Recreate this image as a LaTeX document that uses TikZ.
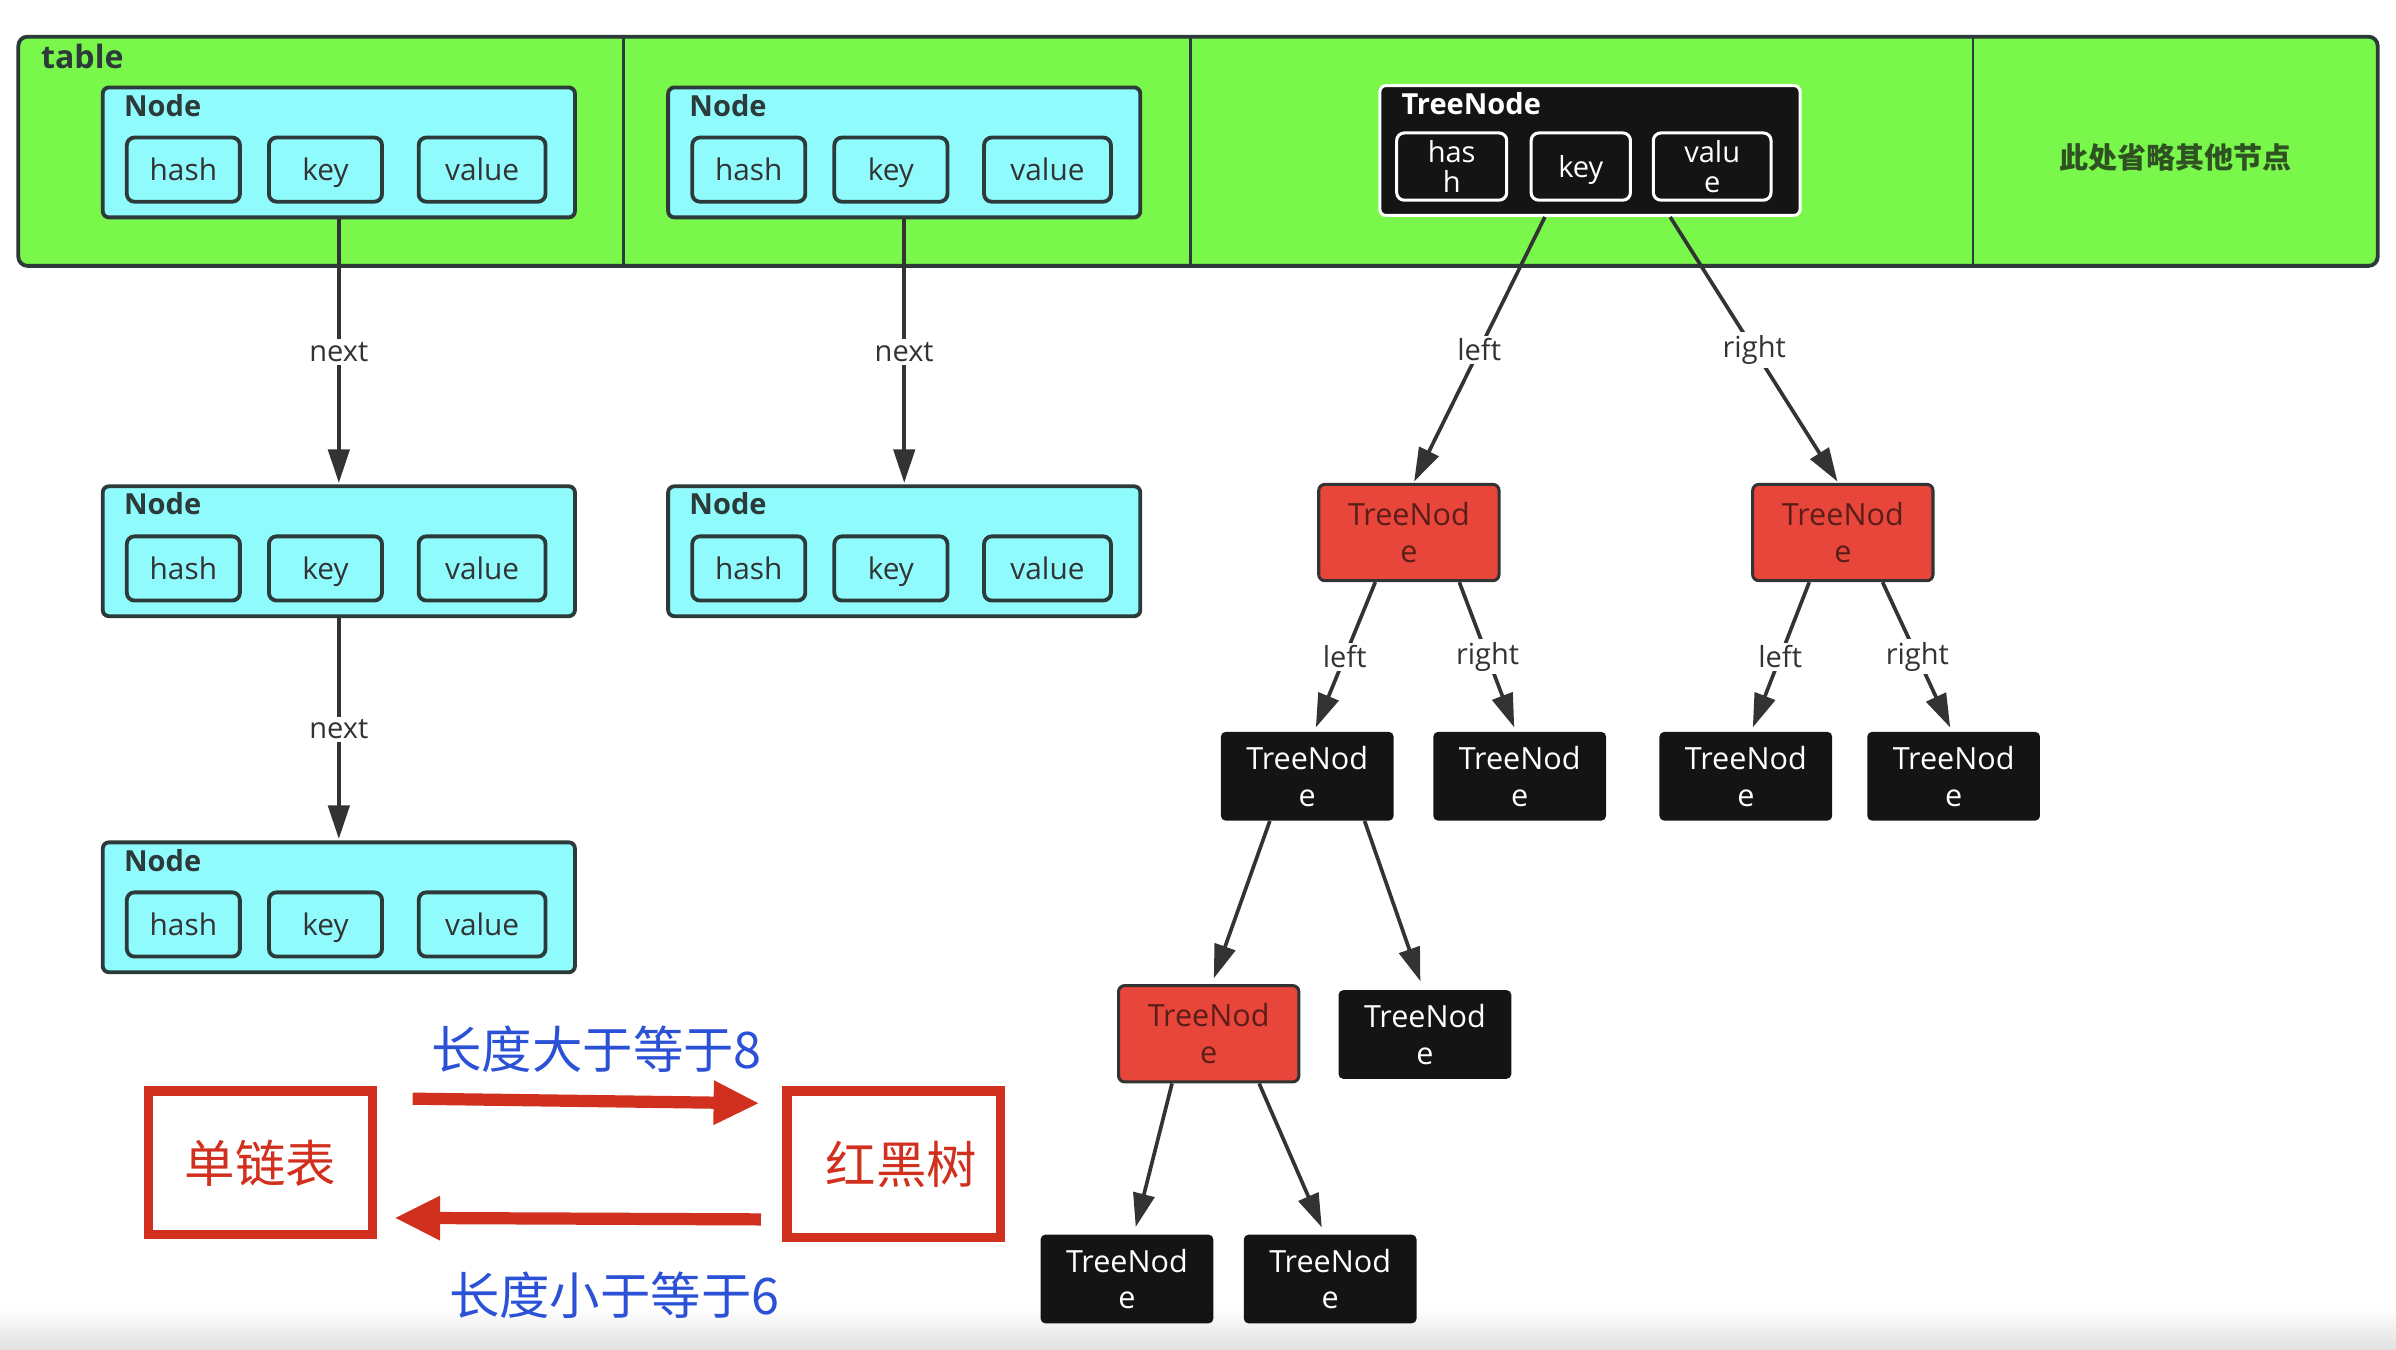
\documentclass[tikz,border=0pt]{standalone}
\usepackage{fontspec}
\setmainfont{Open Sans}
\newfontfamily\cjk{Noto Sans CJK SC}
\usetikzlibrary{arrows.meta,positioning}
\definecolor{tblgreen}{HTML}{79F74B}
\definecolor{nodecyan}{HTML}{8FFBFD}
\definecolor{treered}{HTML}{E8453B}
\definecolor{treeblack}{HTML}{141414}
\definecolor{linegray}{HTML}{333333}
\definecolor{nodeline}{HTML}{2C3A3A}
\definecolor{redtext}{HTML}{5A1E18}
\definecolor{boxred}{HTML}{D2301F}
\definecolor{txtblue}{HTML}{2B52D6}
\definecolor{omitgreen}{HTML}{2F5223}
\tikzset{tb/.style={draw=nodeline,line width=2.5pt,fill=tblgreen,rounded corners=6pt,minimum width=1544pt,minimum height=150pt,inner sep=0pt},
 nd/.style={draw=nodeline,line width=2.5pt,fill=nodecyan,rounded corners=4pt,minimum width=309pt,minimum height=85pt,inner sep=0pt},
 fd/.style={draw=nodeline,line width=2.5pt,fill=nodecyan,rounded corners=5pt,minimum height=42pt,inner sep=0pt,text height=16pt,text depth=2pt,font=\fontsize{19.5}{22}\selectfont,text=linegray},
 tnd/.style={draw=white,line width=2pt,fill=treeblack,rounded corners=4pt,minimum width=275pt,minimum height=85pt,inner sep=0pt},
 tfd/.style={draw=white,line width=2pt,fill=treeblack,rounded corners=5pt,minimum height=44pt,inner sep=0pt,align=center,font=\fontsize{19}{20}\selectfont,text=white},
 nt/.style={anchor=base west,inner sep=0pt,text=nodeline,font=\bfseries\fontsize{19}{22}\selectfont},
 rn/.style={draw=linegray,line width=2pt,fill=treered,rounded corners=4pt,minimum width=118pt,minimum height=63pt,inner sep=0pt,align=center,font=\fontsize{20}{24}\selectfont,text=redtext},
 bn/.style={fill=treeblack,rounded corners=3pt,minimum width=113pt,minimum height=58pt,inner sep=0pt,align=center,font=\fontsize{20}{24}\selectfont,text=white},
 ar/.style={draw=linegray,line width=2.4pt,-{Triangle[length=22pt,width=14pt]},shorten >=1pt},
 lb/.style={midway,fill=white,inner sep=2pt,font=\fontsize{19}{22}\selectfont,text=linegray},
 bx/.style={draw=boxred,line width=6pt,fill=white,inner sep=0pt,font=\cjk\fontsize{33}{40}\selectfont,text=boxred},
 big/.style={draw=boxred,line width=8pt,-{Triangle[length=30pt,width=27pt]}},
 bl/.style={midway,inner sep=0pt,font=\cjk\fontsize{33}{40}\selectfont,text=txtblue}}
\begin{document}
\begin{tikzpicture}[x=1pt,y=-1pt]
\fill[white](0,0)rectangle(1568,883);\useasboundingbox(0,0)rectangle(1568,883);
\shade[top color=white,bottom color=black!12](0,856)rectangle(1568,883);
% table with its buckets
\node[tb](tbl) at (784,99){};
\foreach \x in {408,779,1291}\draw[nodeline,line width=1.5pt](\x,0 |- tbl.north)--(\x,0 |- tbl.south);
\node[nt,font=\bfseries\fontsize{21}{24}\selectfont](tbl-t) at ([xshift=16pt,yshift=-22pt]tbl.north west){table};
\node[font=\cjk\bfseries\fontsize{19}{22}\selectfont,text=omitgreen](om) at (1423.5,103){此处省略其他节点};
% linked list nodes
\foreach \n/\x/\y in {n1/66/56,n2/436/56,n3/66/317,n4/436/317,n5/66/550}{
 \node[nd,anchor=north west](\n) at (\x,\y){};
 \node[nt](\n-t) at ([xshift=15pt,yshift=-20pt]\n.north west){Node};
 \node[fd,minimum width=74pt](\n-h) at ([xshift=54pt,yshift=-55pt]\n.north west){hash};
 \node[fd,minimum width=74pt](\n-k) at ([xshift=147pt,yshift=-55pt]\n.north west){key};
 \node[fd,minimum width=83pt](\n-v) at ([xshift=249.5pt,yshift=-55pt]\n.north west){value};}
\draw[ar](n1)--node[lb]{next}(n3);\draw[ar](n2)--node[lb]{next}(n4);\draw[ar](n3)--node[lb]{next}(n5);
% tree root in the table
\node[tnd](tn) at (1040.5,98.5){};
\node[nt,text=white](tn-t) at ([xshift=15pt,yshift=-20pt]tn.north west){TreeNode};
\node[tfd,minimum width=72pt](tn-h) at ([xshift=48pt,yshift=-54pt]tn.north west){has\\h};
\node[tfd,minimum width=65pt,text height=16pt,text depth=2pt](tn-k) at ([xshift=132.5pt,yshift=-54pt]tn.north west){key};
\node[tfd,minimum width=77pt](tn-v) at ([xshift=218.5pt,yshift=-54pt]tn.north west){valu\\e};
% red-black tree
\node[rn](ra) at (922,348.5){TreeNod\\e};\node[rn](rb) at (1206,348.5){TreeNod\\e};
\node[bn](bc) at (855.5,508){TreeNod\\e};\node[bn](bd) at (994.5,508){TreeNod\\e};
\node[bn](be) at (1142.5,508){TreeNod\\e};\node[bn](bf) at (1278.5,508){TreeNod\\e};
\node[rn](rg) at (791,676.5){TreeNod\\e};\node[bn](bh) at (932.5,677){TreeNod\\e};
\node[bn](bi) at (737.5,837){TreeNod\\e};\node[bn](bj) at (870.5,837){TreeNod\\e};
\draw[ar]([xshift=-29.5pt]tn.south)--node[lb]{left}([xshift=3pt]ra.north);
\draw[ar]([xshift=52.5pt]tn.south)--node[lb]{right}([xshift=-3pt]rb.north);
\draw[ar,shorten >=3pt]([xshift=-22pt]ra.south)--node[lb]{left}([xshift=4.5pt]bc.north);
\draw[ar,shorten >=3pt]([xshift=33pt]ra.south)--node[lb]{right}([xshift=-2.5pt]bd.north);
\draw[ar,shorten >=3pt]([xshift=-22pt]rb.south)--node[lb]{left}([xshift=3.5pt]be.north);
\draw[ar,shorten >=3pt]([xshift=26pt]rb.south)--node[lb]{right}([xshift=-1pt]bf.north);
\draw[ar,shorten >=4pt]([xshift=-24.5pt]bc.south)--([xshift=2pt]rg.north);
\draw[ar,shorten >=6pt]([xshift=37.5pt]bc.south)--([xshift=-1pt]bh.north);
\draw[ar,shorten >=5pt]([xshift=-24pt]rg.south)--([xshift=4.5pt]bi.north);
\draw[ar,shorten >=5pt]([xshift=33pt]rg.south)--([xshift=-3.5pt]bj.north);
% list <-> tree
\node[bx,minimum width=147pt,minimum height=94pt](sl) at (170.5,761){单链表};
\node[bx,minimum width=140pt,minimum height=96pt](rbt) at (585,762){\hspace*{10pt}红黑树};
\draw[big]([xshift=23pt,yshift=42pt]sl.east)--node[bl,xshift=7pt,yshift=34pt]{长度大于等于8}([xshift=-15pt,yshift=40pt]rbt.west);
\draw[big]([xshift=-14pt,yshift=-36pt]rbt.west)--node[bl,xshift=24pt,yshift=-50pt]{长度小于等于6}([xshift=11pt,yshift=-36pt]sl.east);
\end{tikzpicture}
\end{document}
